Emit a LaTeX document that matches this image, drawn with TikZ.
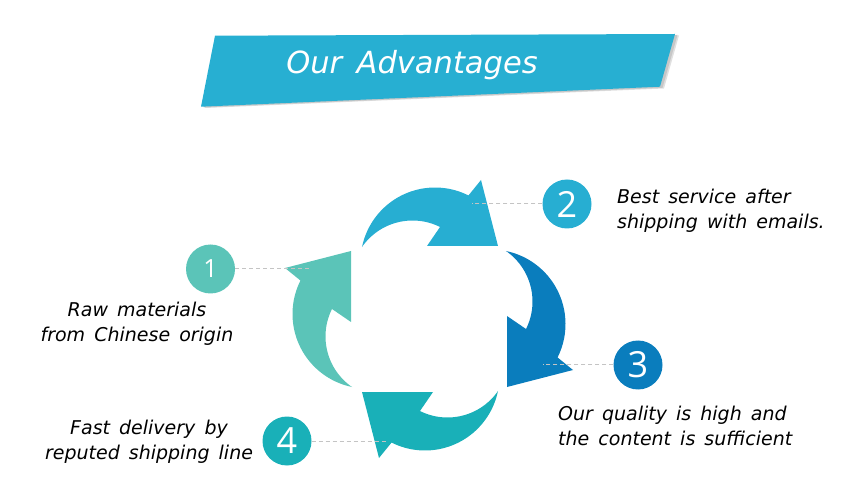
\documentclass[tikz,border=0pt]{standalone}
\usepackage{fontspec}
\setmainfont{Open Sans}
\newfontfamily\handfont{DejaVu Sans}[WordSpace=1.5]
\newfontfamily\numfont{Open Sans}
\definecolor{ctop}{HTML}{27AED2}
\definecolor{cright}{HTML}{0A7DBD}
\definecolor{cbottom}{HTML}{19B0B8}
\definecolor{cleft}{HTML}{5BC4B8}
\definecolor{cbanner}{HTML}{27AFD2}
\definecolor{dashgray}{HTML}{C4C4C4}
\newcommand{\cycarrow}[1]{%
  \fill[#1] plot[domain=191.6:296.7, samples=40] ({5+74.5*cos(\x)}, {-57+74.5*sin(\x)})
    -- (51,-139) -- (68,-73) -- (-3,-73) -- (10,-92)
    -- plot[domain=296.5:214.7, samples=40] ({-17.45+61.5*cos(\x)}, {-37+61.5*sin(\x)}) -- cycle;}
\begin{document}
\begin{tikzpicture}[x=1pt,y=-1pt,
  numcirc/.style={circle, minimum size=49pt, inner sep=0pt, text=white, font=\numfont\fontsize{36}{36}\selectfont},
  txt/.style={inner sep=0pt, text=black, font=\handfont\itshape\fontsize{19}{25}\selectfont},
  dashln/.style={draw=dashgray, line width=1pt, dash pattern=on 4pt off 3pt}]
\useasboundingbox (0,0) rectangle (841,486);
% title banner
\fill[black!12] (219,37) -- (679,35.5) -- (664,88.5) -- (205,108) -- cycle;
\fill[black!22] (217.5,36.5) -- (677.5,35) -- (662.5,87.8) -- (203.5,107.5) -- cycle;
\fill[cbanner] (215,35.7) -- (675,34) -- (660,86.7) -- (201,106.7) -- cycle;
\node[inner sep=0pt, text=white, font=\handfont\itshape\fontsize{30.5}{32}\selectfont, anchor=base] (title) at (412,74) {Our Advantages};
% cycle arrows
\begin{scope}[shift={(430,319)}] \cycarrow{ctop} \end{scope}
\begin{scope}[shift={(434,319)}, rotate=-90] \cycarrow{cright} \end{scope}
\begin{scope}[shift={(430,319)}, rotate=180] \cycarrow{cbottom} \end{scope}
\begin{scope}[shift={(424,319)}, rotate=90] \cycarrow{cleft} \end{scope}
% number circles
\node[numcirc, fill=cleft, font=\numfont\fontsize{25}{25}\selectfont] (c1) at (210.5,269) {1};
\node[numcirc, fill=ctop] (c2) at (567,204) {2};
\node[numcirc, fill=cright] (c3) at (638,365) {3};
\node[numcirc, fill=cbottom] (c4) at (287,441) {4};
% dashed leaders
\coordinate (p1) at (310,269);
\coordinate (p2) at (472,204);
\coordinate (p3) at (543,365);
\coordinate (p4) at (387,441);
\draw[dashln] (c1) -- (p1);
\draw[dashln] (c2) -- (p2);
\draw[dashln] (c3) -- (p3);
\draw[dashln] (c4) -- (p4);
% texts
\node[txt, align=center] (t1) at (137,324.5) {\strut Raw materials\\\strut from Chinese origin};
\node[txt, align=left, anchor=west] (t2) at (617,211.5) {\strut Best service after\\\strut shipping with emails.};
\node[txt, align=left, anchor=west] (t3) at (558,428) {\strut Our quality is high and\\\strut the content is sufficient};
\node[txt, align=center] (t4) at (149,442) {\strut Fast delivery by\\\strut reputed shipping line};
\end{tikzpicture}
\end{document}
